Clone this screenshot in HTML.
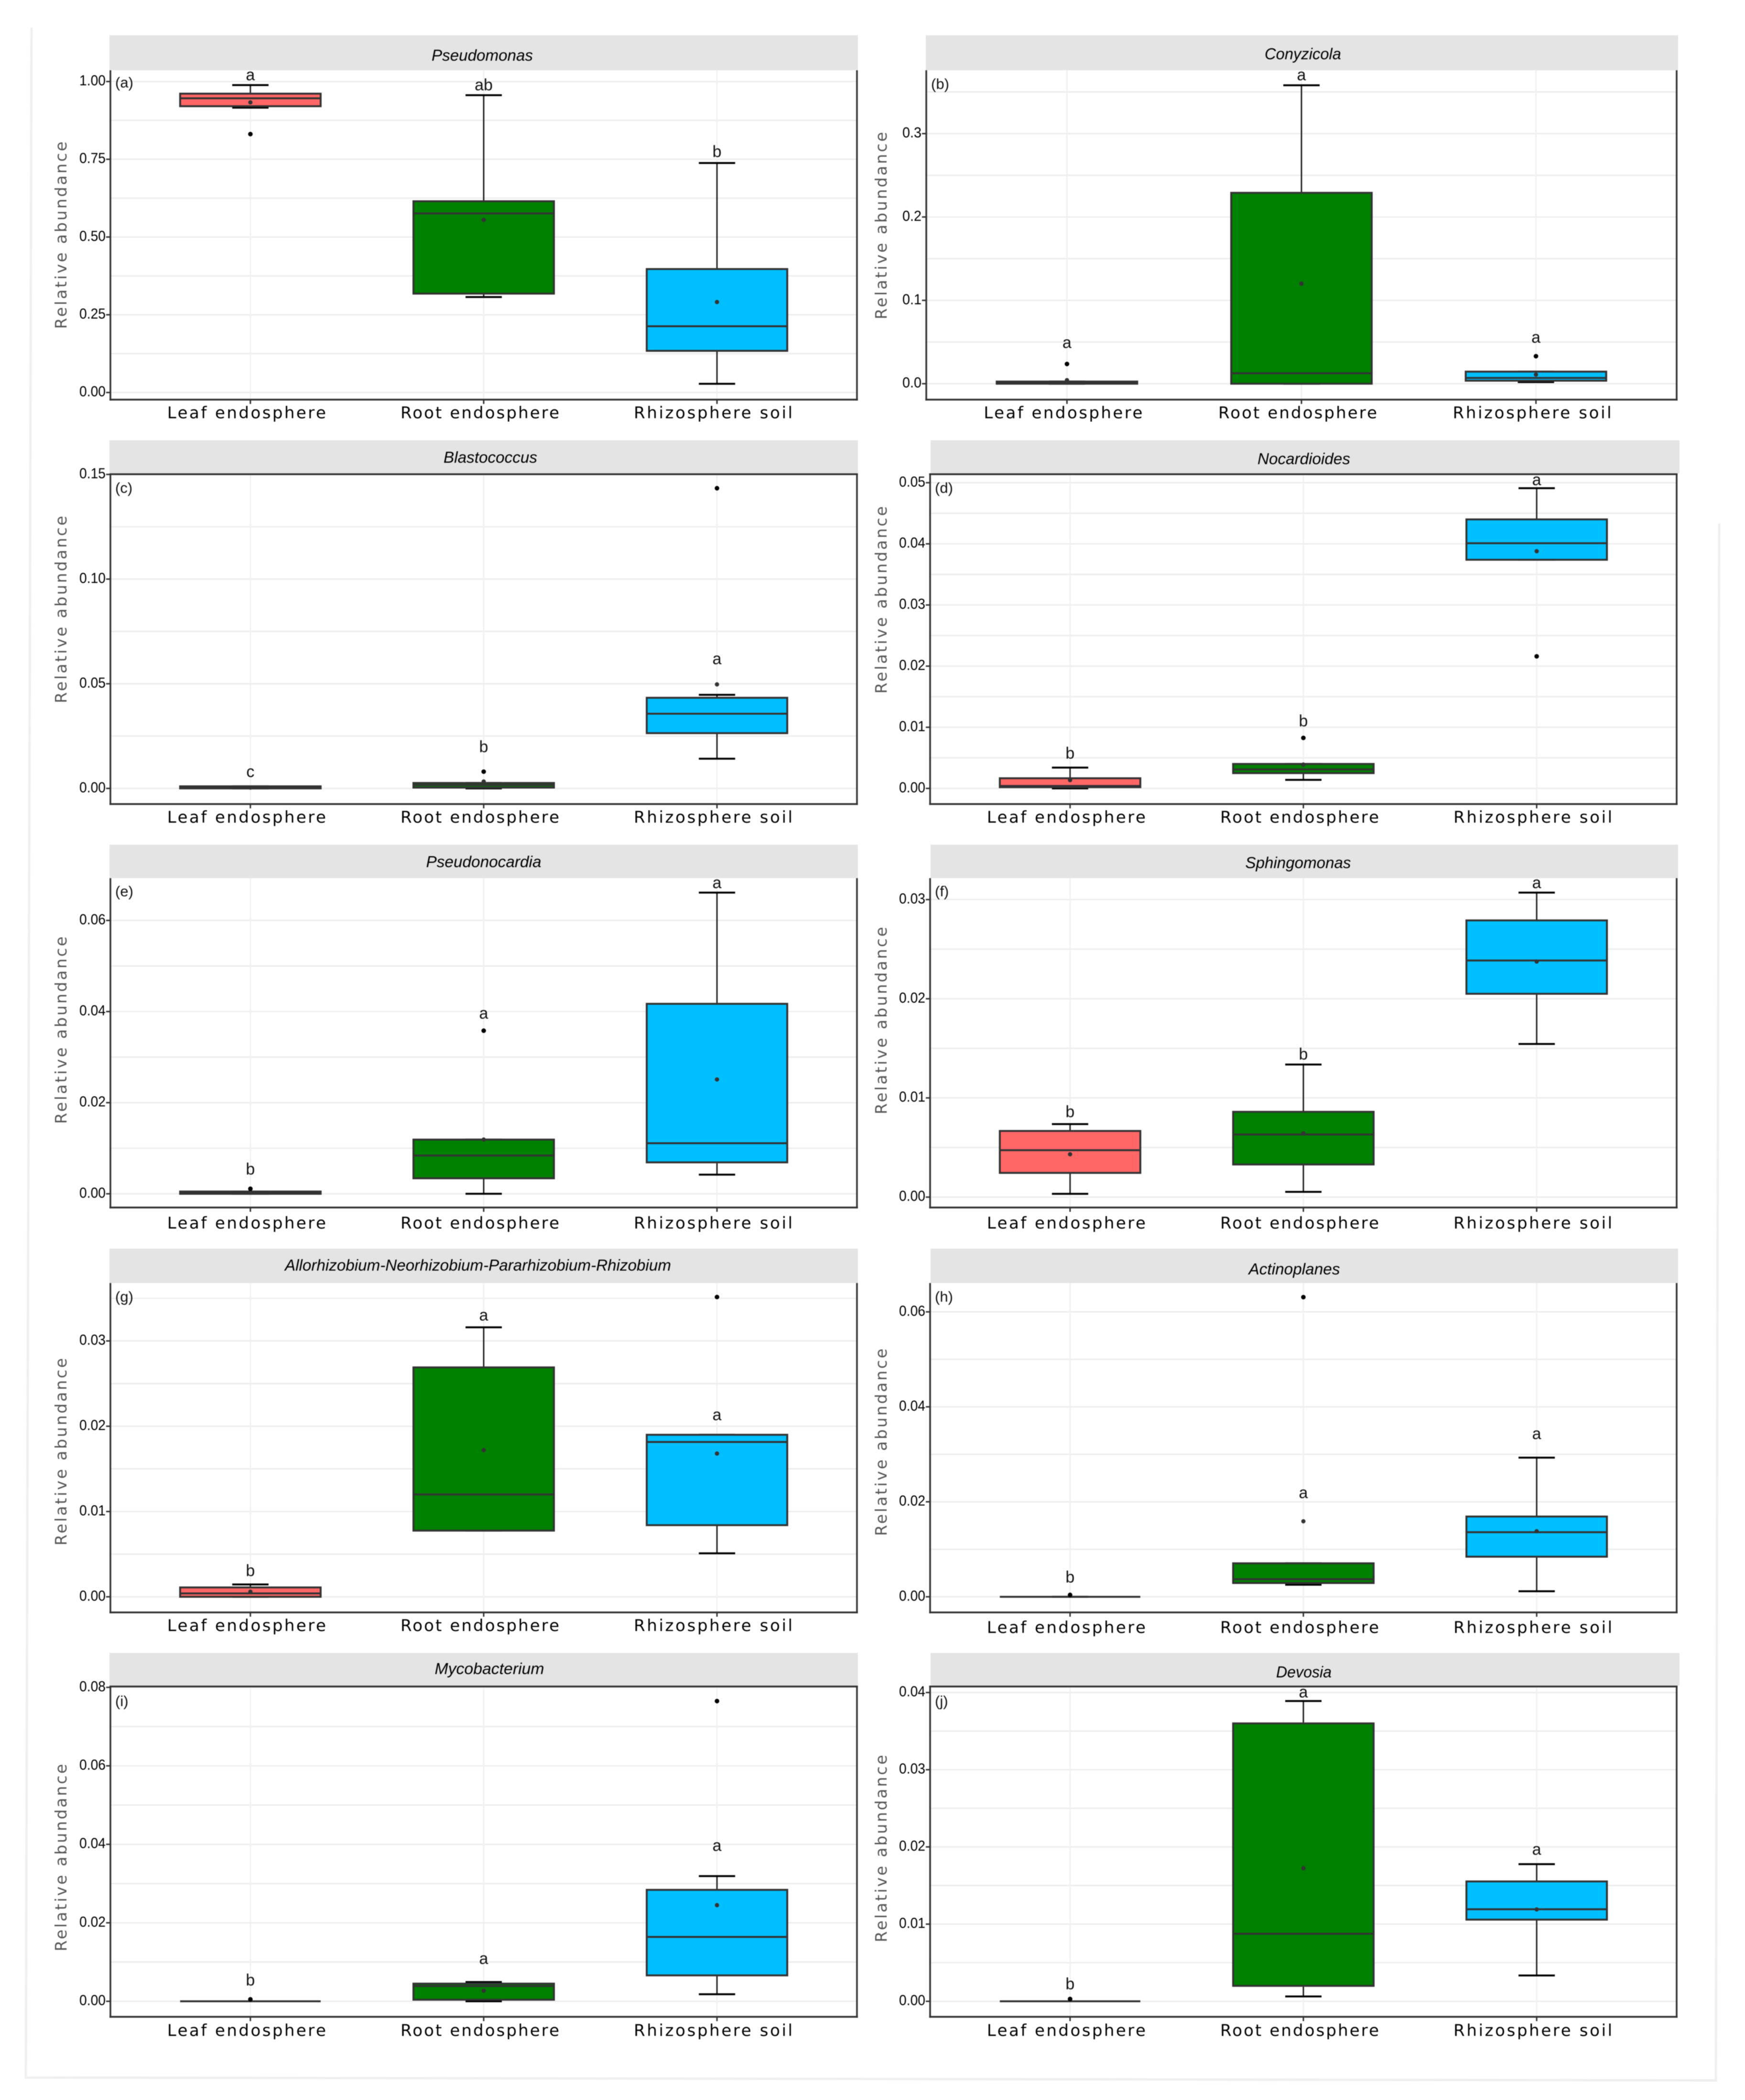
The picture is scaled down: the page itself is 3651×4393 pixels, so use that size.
<!DOCTYPE html>
<html lang="en">
<head>
<meta charset="utf-8">
<title>Relative abundance of bacterial genera by compartment</title>
<style>
  html, body { margin: 0; padding: 0; background: #fff; }
  svg { display: block; filter: blur(0.7px); }
</style>
</head>
<body>
<svg id="figure" xmlns="http://www.w3.org/2000/svg" width="3651" height="4393" viewBox="0 0 3651 4393">
  <rect x="0" y="0" width="3651" height="4393" fill="#ffffff"></rect>
  <polyline points="66,58 54,4346 3590,4352 3597,1095" fill="none" stroke="#efefef" stroke-width="5"></polyline>
</svg>
<script>
// ---- chart data ----
const categories = ['Leaf endosphere', 'Root endosphere', 'Rhizosphere soil'];
const panelTitles = ['Pseudomonas', 'Conyzicola', 'Blastococcus', 'Nocardioides', 'Pseudonocardia', 'Sphingomonas', 'Allorhizobium-Neorhizobium-Pararhizobium-Rhizobium', 'Actinoplanes', 'Mycobacterium', 'Devosia'];
const panelLetters = ['(a)', '(b)', '(c)', '(d)', '(e)', '(f)', '(g)', '(h)', '(i)', '(j)'];
const tickLabels = [
  ['0.00', '0.25', '0.50', '0.75', '1.00'],
  ['0.0', '0.1', '0.2', '0.3'],
  ['0.00', '0.05', '0.10', '0.15'],
  ['0.00', '0.01', '0.02', '0.03', '0.04', '0.05'],
  ['0.00', '0.02', '0.04', '0.06'],
  ['0.00', '0.01', '0.02', '0.03'],
  ['0.00', '0.01', '0.02', '0.03'],
  ['0.00', '0.02', '0.04', '0.06'],
  ['0.00', '0.02', '0.04', '0.06', '0.08'],
  ['0.00', '0.01', '0.02', '0.03', '0.04']
];
const yDomains = [
  [-0.0229, 1.0362], [-0.0191, 0.376], [-0.00747, 0.1501], [-0.00256, 0.05139], [-0.00301, 0.06928],
  [-0.00105, 0.03216], [-0.00183, 0.03679], [-0.00329, 0.06607], [-0.00396, 0.08022], [-0.00201, 0.04078]
];
const whiskerHigh = [
  [0.9885, 0.956, 0.738], [0.0026, 0.358, 0.0145], [0.001, 0.0026, 0.0447], [0.0034, 0.004, 0.0491], [0.0005, 0.0119, 0.0661],
  [0.00736, 0.01337, 0.0307], [0.00145, 0.0316, 0.019], [0, 0.00705, 0.0293], [0, 0.0049, 0.0319], [0, 0.0389, 0.01777]
];
const q3 = [
  [0.961, 0.615, 0.397], [0.0026, 0.229, 0.0145], [0.001, 0.0026, 0.0433], [0.00166, 0.004, 0.044], [0.0005, 0.0119, 0.0417],
  [0.00667, 0.0086, 0.0279], [0.0011, 0.0269, 0.019], [0, 0.00705, 0.0169], [0, 0.0045, 0.0284], [0, 0.036, 0.01553]
];
const median = [
  [0.946, 0.576, 0.213], [0.001, 0.0125, 0.0069], [0.0005, 0.0016, 0.0357], [0.0004, 0.0031, 0.0401], [0.0002, 0.0084, 0.0111],
  [0.00473, 0.00631, 0.02386], [0.0004, 0.012, 0.01815], [0, 0.0037, 0.0136], [0, 0.0039, 0.0164], [0, 0.00875, 0.01192]
];
const q1 = [
  [0.9206, 0.318, 0.134], [0, 0, 0.0036], [0, 0.0004, 0.0264], [0.0002, 0.0025, 0.0374], [0, 0.0034, 0.0069],
  [0.00244, 0.00329, 0.0205], [0, 0.00776, 0.0084], [0, 0.0029, 0.00844], [0, 0.0004, 0.0066], [0, 0.002, 0.01058]
];
const whiskerLow = [
  [0.916, 0.307, 0.028], [0, 0, 0.002], [0, 0, 0.0142], [0, 0.0014, 0.0374], [0, 0, 0.0042],
  [0.00033, 0.00053, 0.01544], [0, 0.00776, 0.0051], [0, 0.00254, 0.00116], [0, 0, 0.0018], [0, 0.00063, 0.00335]
];
const means = [
  [0.933, 0.555, 0.291], [0.0043, 0.12, 0.0109], [0.0004, 0.0033, 0.0497], [0.00135, 0.0039, 0.0388], [0.0003, 0.0119, 0.0251],
  [0.00432, 0.00642, 0.02375], [0.0006, 0.0172, 0.0168], [0.0003, 0.0159, 0.0138], [0.0004, 0.0027, 0.0245], [0.0002, 0.01724, 0.0119]
];
const outliers = [
  [[0.831], [], []], [[0.0237], [], [0.033]], [[], [0.008], [0.1434]], [[], [0.00826], [0.0216]], [[0.0011], [0.0358], []],
  [[], [], []], [[], [], [0.03515]], [[0.0004], [0.0631], []], [[0.0005], [], [0.0765]], [[0.0003], [], []]
];
const sigLetters = [
  ['a', 'ab', 'b'], ['a', 'a', 'a'], ['c', 'b', 'a'], ['b', 'b', 'a'], ['b', 'a', 'a'],
  ['b', 'b', 'a'], ['b', 'a', 'a'], ['b', 'a', 'a'], ['b', 'a', 'a'], ['b', 'a', 'a']
];
const sigLetterValues = [
  [1.0177, 0.99, 0.7755], [0.048, 0.369, 0.0543], [0.0075, 0.02, 0.0614], [0.0058, 0.0111, 0.0503], [0.0055, 0.0394, 0.068],
  [0.00863, 0.01445, 0.03158], [0.0031, 0.0329, 0.0212], [0.0042, 0.0217, 0.0341], [0.0055, 0.0106, 0.0394], [0.0023, 0.0399, 0.01955]
];

// ---- page layout (frames in pixels, not data) ----
const frames = [
  { l: 231,  r: 1793, t: 147,  b: 836,  st: 74,   sl: 229,  sr: 1795, top: false, tx: 1009, ty: 116,  tw: 212, yc: 492,  yt: 139,  lb: 25, xo: 27 },
  { l: 1938, r: 3508, t: 147,  b: 836,  st: 74,   sl: 1937, sr: 3511, top: false, tx: 2726, ty: 113,  tw: 160, yc: 472,  yt: 1855, lb: 28, xo: 27 },
  { l: 231,  r: 1793, t: 992,  b: 1682, st: 921,  sl: 229,  sr: 1795, top: true,  tx: 1026, ty: 957,  tw: 196, yc: 1275, yt: 139,  lb: 28, xo: 27 },
  { l: 1946, r: 3508, t: 992,  b: 1682, st: 921,  sl: 1947, sr: 3514, top: true,  tx: 2728, ty: 960,  tw: 194, yc: 1255, yt: 1855, lb: 28, xo: 27 },
  { l: 231,  r: 1793, t: 1837, b: 2526, st: 1767, sl: 229,  sr: 1795, top: false, tx: 1012, ty: 1803, tw: 241, yc: 2155, yt: 139,  lb: 27, xo: 32 },
  { l: 1946, r: 3508, t: 1837, b: 2526, st: 1767, sl: 1947, sr: 3511, top: false, tx: 2716, ty: 1805, tw: 221, yc: 2135, yt: 1855, lb: 27, xo: 32 },
  { l: 231,  r: 1793, t: 2684, b: 3373, st: 2612, sl: 229,  sr: 1795, top: false, tx: 1000, ty: 2647, tw: 808, yc: 3037, yt: 139,  lb: 28, xo: 27 },
  { l: 1946, r: 3508, t: 2684, b: 3373, st: 2612, sl: 1947, sr: 3511, top: false, tx: 2708, ty: 2655, tw: 191, yc: 3017, yt: 1855, lb: 28, xo: 31 },
  { l: 231,  r: 1793, t: 3528, b: 4219, st: 3458, sl: 229,  sr: 1795, top: true,  tx: 1024, ty: 3491, tw: 229, yc: 3886, yt: 139,  lb: 30, xo: 28 },
  { l: 1946, r: 3508, t: 3528, b: 4219, st: 3458, sl: 1947, sr: 3514, top: true,  tx: 2728, ty: 3498, tw: 116, yc: 3867, yt: 1855, lb: 30, xo: 28 }
];
const fills = ['#ff6666', '#008000', '#00bfff'];
const SANS = '"Liberation Sans", Arial, sans-serif';
const WIDE = '"DejaVu Sans", "Liberation Sans", sans-serif';
const NS = 'http://www.w3.org/2000/svg';
const figure = document.getElementById('figure');

function make(tag, attrs, parent, text) {
  const node = document.createElementNS(NS, tag);
  for (const key in attrs) node.setAttribute(key, attrs[key]);
  if (text !== undefined) node.textContent = text;
  parent.appendChild(node);
  return node;
}
function xScale(frame, index) {
  const unit = (frame.r - frame.l) / 3.2;
  return frame.l + unit * (index + 0.6);
}
function yScale(frame, domain, value) {
  return frame.b - (value - domain[0]) / (domain[1] - domain[0]) * (frame.b - frame.t);
}

frames.forEach(function (frame, p) {
  const domain = yDomains[p];
  const y = function (value) { return yScale(frame, domain, value); };
  const g = make('g', {}, figure);
  
  

  // gridlines: majors at ticks, minors halfway between them
  const tickValues = tickLabels[p].map(parseFloat);
  const step = tickValues[1] - tickValues[0];
  const gridValues = [];
  tickValues.forEach(function (v) {
    gridValues.push(v);
    if (v + step / 2 < domain[1]) gridValues.push(v + step / 2);
  });
  gridValues.forEach(function (v) {
    const grid = make('line', { x1: frame.l, x2: frame.r, y1: y(v), y2: y(v), stroke: '#eeeeee', 'stroke-width': 3.2 }, g);
    
    
  });
  categories.forEach(function (c, i) {
    const grid = make('line', { x1: xScale(frame, i), x2: xScale(frame, i), y1: frame.t, y2: frame.b, stroke: '#f0f0f0', 'stroke-width': 2.8 }, g);
    
    
  });

  // strip
  const strip = make('rect', { x: frame.sl, y: frame.st, width: frame.sr - frame.sl, height: frame.t - frame.st - (frame.top ? 2 : 0), fill: '#e4e4e4' }, g);
  
  
  const stripTitle = make('text', { x: frame.tx, y: frame.ty + 11, 'text-anchor': 'middle', 'font-family': SANS, 'font-style': 'italic', 'font-size': 33, fill: '#000', textLength: frame.tw, lengthAdjust: 'spacingAndGlyphs' }, g, panelTitles[p]);
  
  

  // boxes
  categories.forEach(function (c, i) {
    const cx = xScale(frame, i);
    const halfBox = 147;
    const halfCap = 38;
    const whisker = make('line', { x1: cx, x2: cx, y1: y(whiskerHigh[p][i]), y2: y(whiskerLow[p][i]), stroke: '#222', 'stroke-width': 3 }, g);
    
    
    const capHigh = make('line', { x1: cx - halfCap, x2: cx + halfCap, y1: y(whiskerHigh[p][i]), y2: y(whiskerHigh[p][i]), stroke: '#000', 'stroke-width': 4 }, g);
    
    
    const capLow = make('line', { x1: cx - halfCap, x2: cx + halfCap, y1: y(whiskerLow[p][i]), y2: y(whiskerLow[p][i]), stroke: '#000', 'stroke-width': 4 }, g);
    
    
    const box = make('rect', { x: cx - halfBox, y: y(q3[p][i]), width: halfBox * 2, height: Math.max(0, y(q1[p][i]) - y(q3[p][i])), fill: fills[i], stroke: '#333', 'stroke-width': 4 }, g);
    
    
    const med = make('line', { x1: cx - halfBox, x2: cx + halfBox, y1: y(median[p][i]), y2: y(median[p][i]), stroke: '#333', 'stroke-width': 4 }, g);
    
    
    const mean = make('circle', { cx: cx, cy: y(means[p][i]), r: 4.5, fill: '#333' }, g);
    
    
    outliers[p][i].forEach(function (v) {
      const dot = make('circle', { cx: cx, cy: y(v), r: 4.8, fill: '#000' }, g);
      
      
    });
    const letter = sigLetters[p][i];
    const letterShift = letter === 'a' || letter === 'c' ? 9 : 12;
    const sig = make('text', { x: cx, y: y(sigLetterValues[p][i]) + letterShift, 'text-anchor': 'middle', 'font-family': SANS, 'font-size': 34, fill: '#111' }, g, letter);
    
    

    const tick = make('line', { x1: cx, x2: cx, y1: frame.b, y2: frame.b + 9, stroke: '#333', 'stroke-width': 3 }, g);
    
    
    const xLabel = make('text', { x: cx - 8, y: frame.b + frame.xo + 12, 'text-anchor': 'middle', 'font-family': WIDE, 'font-size': 34, fill: '#000', textLength: 332, lengthAdjust: 'spacing' }, g, c);
    
    
  });

  // y ticks
  tickLabels[p].forEach(function (label) {
    const v = parseFloat(label);
    const tick = make('line', { x1: frame.l - 9, x2: frame.l, y1: y(v), y2: y(v), stroke: '#333', 'stroke-width': 3 }, g);
    
    
    const text = make('text', { x: frame.l - 10, y: y(v) + 8, 'text-anchor': 'end', 'font-family': SANS, 'font-size': 31, fill: '#000', textLength: label.length === 4 ? 55 : 40, lengthAdjust: 'spacingAndGlyphs' }, g, label);
    
    
  });

  // panel border
  const spineLeft = make('line', { x1: frame.l, x2: frame.l, y1: frame.t, y2: frame.b + 2, stroke: '#333', 'stroke-width': 3.6 }, g);
  
  
  const spineRight = make('line', { x1: frame.r, x2: frame.r, y1: frame.t, y2: frame.b + 2, stroke: '#333', 'stroke-width': 3.6 }, g);
  
  
  const spineBottom = make('line', { x1: frame.l - 2, x2: frame.r + 2, y1: frame.b, y2: frame.b, stroke: '#333', 'stroke-width': 3.8 }, g);
  
  
  if (frame.top) {
    const spineTop = make('line', { x1: frame.l - 2, x2: frame.r + 2, y1: frame.t, y2: frame.t, stroke: '#333', 'stroke-width': 3.8 }, g);
    
    
  }

  const panelLetter = make('text', { x: frame.l + 10, y: frame.t + frame.lb + 11, 'font-family': SANS, 'font-size': 31, fill: '#111' }, g, panelLetters[p]);
  
  

  const yTitle = make('text', { x: frame.yt, y: frame.yc, transform: 'rotate(-90 ' + frame.yt + ' ' + frame.yc + ')', 'text-anchor': 'middle', 'font-family': WIDE, 'font-size': 33, fill: '#555', textLength: 392, lengthAdjust: 'spacing' }, g, 'Relative abundance');
  
  
});
</script>
</body>
</html>
